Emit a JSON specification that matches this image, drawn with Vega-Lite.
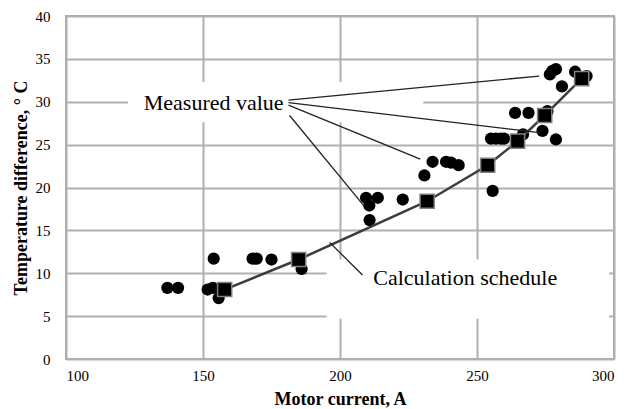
{
  "$schema": "https://vega.github.io/schema/vega-lite/v6.json",
  "width": 548,
  "height": 343,
  "autosize": {"type": "none"},
  "padding": {"left": 66, "top": 16, "right": 12, "bottom": 50},
  "background": "white",
  "config": {
    "view": {"stroke": "#a8a8a8", "strokeWidth": 2},
    "axis": {
      "domain": false,
      "ticks": false,
      "grid": true,
      "gridColor": "#b0b0b0",
      "gridWidth": 2,
      "labelFont": "Liberation Serif",
      "labelFontSize": 15,
      "labelColor": "black",
      "titleFont": "Liberation Serif",
      "titleFontSize": 18,
      "titleFontWeight": "bold",
      "titleColor": "black"
    }
  },
  "datasets": {
    "measured": [
      {"x": 137.0, "y": 8.3}, {"x": 140.9, "y": 8.3}, {"x": 151.7, "y": 8.1}, {"x": 153.6, "y": 8.3},
      {"x": 155.7, "y": 7.1}, {"x": 153.9, "y": 11.7}, {"x": 168.1, "y": 11.7}, {"x": 169.6, "y": 11.7},
      {"x": 175.0, "y": 11.6}, {"x": 186.0, "y": 10.5}, {"x": 209.5, "y": 18.8}, {"x": 210.7, "y": 17.9},
      {"x": 213.8, "y": 18.8}, {"x": 222.9, "y": 18.6}, {"x": 210.8, "y": 16.2}, {"x": 230.8, "y": 21.4},
      {"x": 233.8, "y": 23.0}, {"x": 238.7, "y": 23.0}, {"x": 240.5, "y": 22.9}, {"x": 243.3, "y": 22.6},
      {"x": 255.7, "y": 19.6}, {"x": 255.1, "y": 25.7}, {"x": 256.9, "y": 25.7}, {"x": 258.7, "y": 25.7},
      {"x": 259.9, "y": 25.7}, {"x": 266.8, "y": 26.2}, {"x": 263.9, "y": 28.7}, {"x": 268.8, "y": 28.7},
      {"x": 275.7, "y": 28.9}, {"x": 273.9, "y": 26.6}, {"x": 278.8, "y": 25.6}, {"x": 276.6, "y": 33.2},
      {"x": 277.5, "y": 33.6}, {"x": 278.8, "y": 33.8}, {"x": 281.0, "y": 31.8}, {"x": 285.8, "y": 33.5},
      {"x": 290.0, "y": 33.0}
    ],
    "calc": [
      {"x": 157.9, "y": 8.1}, {"x": 184.9, "y": 11.6}, {"x": 231.8, "y": 18.4}, {"x": 253.9, "y": 22.6},
      {"x": 264.8, "y": 25.4}, {"x": 274.7, "y": 28.4}, {"x": 288.2, "y": 32.7}
    ],
    "boxes": [
      {"x": 122.6, "x2": 230.4, "y": 32.3, "y2": 27.6},
      {"x": 195.1, "x2": 298.2, "y": 11.6, "y2": 4.7}
    ],
    "leaders": [
      {"x": 181.2, "y": 30.2, "x2": 272.7, "y2": 33.0},
      {"x": 181.2, "y": 29.9, "x2": 272.7, "y2": 26.4},
      {"x": 181.2, "y": 29.6, "x2": 229.3, "y2": 23.3},
      {"x": 181.6, "y": 28.4, "x2": 208.9, "y2": 17.8},
      {"x": 196.2, "y": 13.6, "x2": 208.2, "y2": 9.8}
    ],
    "labels": [
      {"x": 153.9, "y": 29.9, "label": "Measured value"},
      {"x": 245.7, "y": 9.4, "label": "Calculation schedule"}
    ]
  },
  "encoding": {
    "x": {
      "field": "x", "type": "quantitative",
      "scale": {"domain": [100, 300], "nice": false, "zero": false},
      "axis": {"values": [100, 150, 200, 250, 300], "title": "Motor current, A", "labelPadding": 9, "titlePadding": 7}
    },
    "y": {
      "field": "y", "type": "quantitative",
      "scale": {"domain": [0, 40], "nice": false},
      "axis": {"values": [0, 5, 10, 15, 20, 25, 30, 35, 40], "title": "Temperature difference, ° C", "labelPadding": 16, "titlePadding": 5}
    }
  },
  "layer": [
    {
      "data": {"name": "boxes"},
      "mark": {"type": "rect", "fill": "white", "stroke": null},
      "encoding": {"x2": {"field": "x2"}, "y2": {"field": "y2"}}
    },
    {
      "data": {"name": "measured"},
      "mark": {"type": "point", "shape": "circle", "filled": true, "color": "black", "size": 150, "opacity": 1}
    },
    {
      "data": {"name": "calc"},
      "mark": {"type": "line", "color": "#3c3c3c", "strokeWidth": 2.5}
    },
    {
      "data": {"name": "calc"},
      "mark": {"type": "point", "shape": "square", "filled": true, "fill": "black", "stroke": "#808080", "strokeWidth": 1.5, "size": 200, "opacity": 1}
    },
    {
      "data": {"name": "leaders"},
      "mark": {"type": "rule", "color": "#222222", "strokeWidth": 1.3},
      "encoding": {"x2": {"field": "x2"}, "y2": {"field": "y2"}}
    },
    {
      "data": {"name": "labels"},
      "mark": {"type": "text", "font": "Liberation Serif", "fontSize": 22, "color": "black", "align": "center", "baseline": "middle"},
      "encoding": {"text": {"field": "label"}}
    }
  ]
}
